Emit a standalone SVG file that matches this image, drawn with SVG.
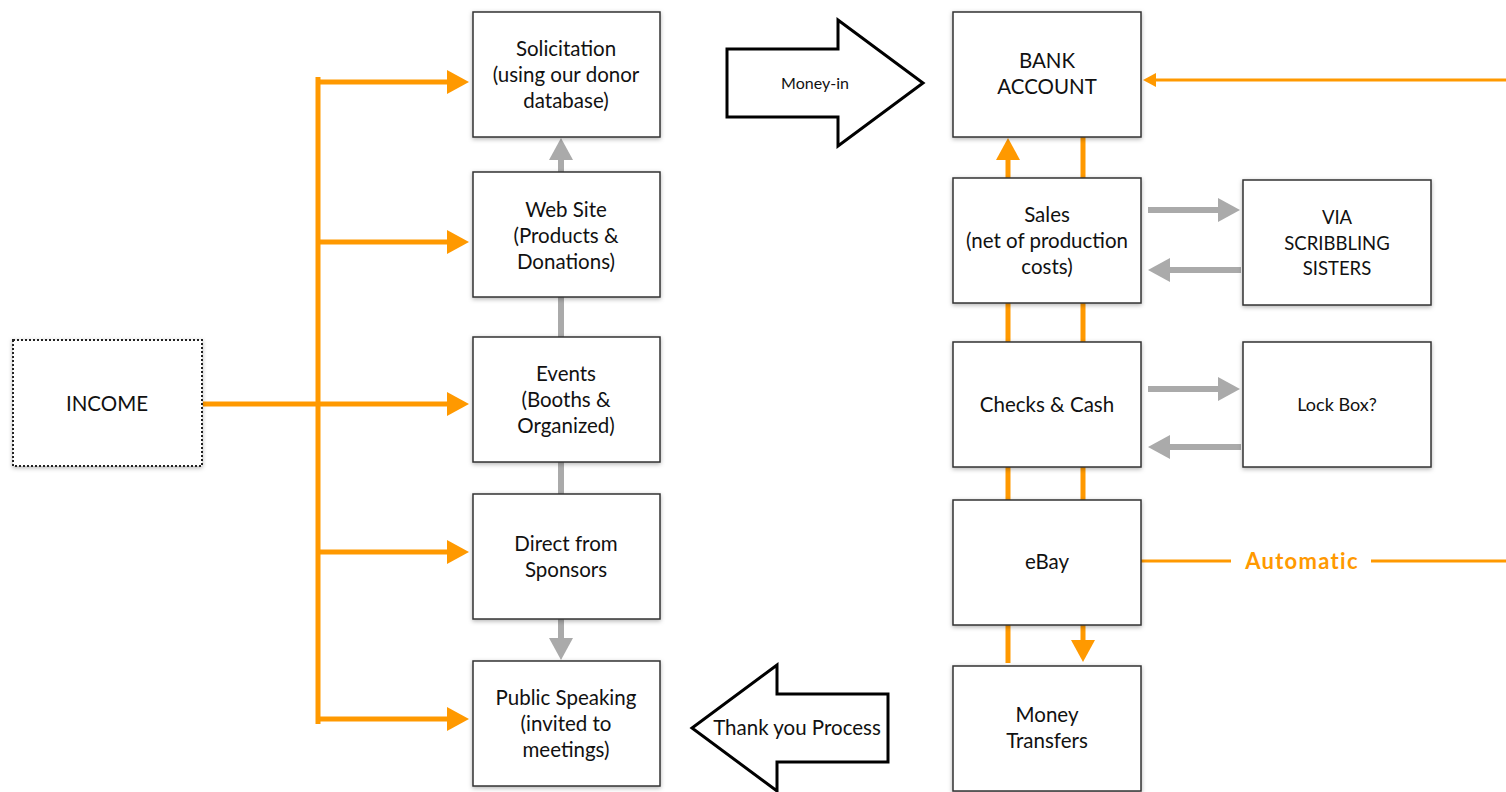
<svg xmlns="http://www.w3.org/2000/svg" width="1506" height="792" viewBox="0 0 1506 792">
<style>
.box{fill:#fff;stroke:#333;stroke-width:1.5;filter:url(#sh)}
.t{font-family:Lato,"Open Sans","Liberation Sans",sans-serif;font-size:20.5px;fill:#111;text-anchor:middle}
.o{stroke:#ff9900;stroke-width:5;fill:none}
.g{stroke:#aaaaaa;stroke-width:6;fill:none}
.big{fill:#fff;stroke:#000;stroke-width:3}
</style>
<defs>
<filter id="sh" x="-10%" y="-10%" width="120%" height="125%">
<feDropShadow dx="0" dy="1.5" stdDeviation="2" flood-color="#000" flood-opacity="0.3"/>
</filter>
<marker id="ao" markerUnits="userSpaceOnUse" markerWidth="24" markerHeight="26" refX="0" refY="12" orient="auto" viewBox="0 0 24 24">
<path d="M0,0 L22,12 L0,24 Z" fill="#ff9900"/>
</marker>
<marker id="ag" markerUnits="userSpaceOnUse" markerWidth="24" markerHeight="26" refX="0" refY="12" orient="auto" viewBox="0 0 24 24">
<path d="M0,0 L22,12 L0,24 Z" fill="#aaaaaa"/>
</marker>
<marker id="aos" markerUnits="userSpaceOnUse" markerWidth="14" markerHeight="14" refX="0" refY="7" orient="auto" viewBox="0 0 14 14">
<path d="M0,0 L13,7 L0,14 Z" fill="#ff9900"/>
</marker>
</defs>

<g id="connectors">
<line class="o" x1="203" y1="404" x2="447" y2="404" marker-end="url(#ao)"/>
<line class="o" x1="318" y1="77" x2="318" y2="724"/>
<line class="o" x1="316" y1="82" x2="447" y2="82" marker-end="url(#ao)"/>
<line class="o" x1="316" y1="242" x2="447" y2="242" marker-end="url(#ao)"/>
<line class="o" x1="316" y1="552" x2="447" y2="552" marker-end="url(#ao)"/>
<line class="o" x1="316" y1="719" x2="447" y2="719" marker-end="url(#ao)"/>
<line class="g" x1="561" y1="172" x2="561" y2="160" marker-end="url(#ag)"/>
<line class="g" x1="561" y1="297" x2="561" y2="337"/>
<line class="g" x1="561" y1="462" x2="561" y2="494"/>
<line class="g" x1="561" y1="619" x2="561" y2="638" marker-end="url(#ag)"/>
<line class="o" x1="1008" y1="178" x2="1008" y2="160" marker-end="url(#ao)"/>
<line class="o" x1="1083" y1="137" x2="1083" y2="178"/>
<line class="o" x1="1008" y1="303" x2="1008" y2="342"/>
<line class="o" x1="1083" y1="303" x2="1083" y2="342"/>
<line class="o" x1="1008" y1="467" x2="1008" y2="500"/>
<line class="o" x1="1083" y1="467" x2="1083" y2="500"/>
<line class="o" x1="1008" y1="625" x2="1008" y2="663"/>
<line class="o" x1="1083" y1="625" x2="1083" y2="640" marker-end="url(#ao)"/>
<line class="g" x1="1148" y1="210" x2="1218" y2="210" marker-end="url(#ag)"/>
<line class="g" x1="1241" y1="270" x2="1170" y2="270" marker-end="url(#ag)"/>
<line class="g" x1="1148" y1="389" x2="1218" y2="389" marker-end="url(#ag)"/>
<line class="g" x1="1241" y1="447" x2="1170" y2="447" marker-end="url(#ag)"/>
<line stroke="#ff9900" stroke-width="3" x1="1506" y1="80" x2="1156" y2="80" marker-end="url(#aos)"/>
<line stroke="#ff9900" stroke-width="3" x1="1141" y1="561" x2="1231" y2="561"/>
<line stroke="#ff9900" stroke-width="3" x1="1371" y1="561" x2="1506" y2="561"/>
<text x="1302" y="569" style="font-family:Lato,'Open Sans','Liberation Sans',sans-serif;font-size:22px;font-weight:bold;letter-spacing:1.3px;fill:#ff9900;text-anchor:middle">Automatic</text>
</g>

<g id="money-in">
<path class="big" d="M727,49 L838,49 L838,20 L923,83 L838,146 L838,117 L727,117 Z"/>
<text class="t" x="815" y="89" style="font-size:16px">Money-in</text>
</g>

<g id="thank-you">
<path class="big" d="M888,694 L777,694 L777,665 L692,728 L777,791 L777,762 L888,762 Z"/>
<text class="t" x="797" y="735">Thank you Process</text>
</g>

<g id="income">
<rect x="13" y="340" width="189" height="126" fill="#fff" stroke="#222" stroke-width="2" stroke-dasharray="2,2" filter="url(#sh)"/>
<text class="t" x="107" y="411">INCOME</text>
</g>

<g id="solicitation">
<rect class="box" x="473" y="12" width="187" height="125"/>
<text class="t" x="566" y="56">Solicitation</text>
<text class="t" x="566" y="82">(using our donor</text>
<text class="t" x="566" y="108">database)</text>
</g>

<g id="website">
<rect class="box" x="473" y="172" width="187" height="125"/>
<text class="t" x="566" y="217">Web Site</text>
<text class="t" x="566" y="243">(Products &amp;</text>
<text class="t" x="566" y="269">Donations)</text>
</g>

<g id="events">
<rect class="box" x="473" y="337" width="187" height="125"/>
<text class="t" x="566" y="381">Events</text>
<text class="t" x="566" y="407">(Booths &amp;</text>
<text class="t" x="566" y="433">Organized)</text>
</g>

<g id="direct">
<rect class="box" x="473" y="494" width="187" height="125"/>
<text class="t" x="566" y="551">Direct from</text>
<text class="t" x="566" y="577">Sponsors</text>
</g>

<g id="public">
<rect class="box" x="473" y="661" width="187" height="125"/>
<text class="t" x="566" y="705">Public Speaking</text>
<text class="t" x="566" y="731">(invited to</text>
<text class="t" x="566" y="757">meetings)</text>
</g>

<g id="bank">
<rect class="box" x="953" y="12" width="188" height="125"/>
<text class="t" x="1047" y="68">BANK</text>
<text class="t" x="1047" y="94">ACCOUNT</text>
</g>

<g id="sales">
<rect class="box" x="953" y="178" width="188" height="125"/>
<text class="t" x="1047" y="222">Sales</text>
<text class="t" x="1047" y="248">(net of production</text>
<text class="t" x="1047" y="274">costs)</text>
</g>

<g id="via">
<rect class="box" x="1243" y="180" width="188" height="125"/>
<text class="t" x="1337" y="224" style="font-size:18.5px">VIA</text>
<text class="t" x="1337" y="250" style="font-size:18.5px">SCRIBBLING</text>
<text class="t" x="1337" y="275" style="font-size:18.5px">SISTERS</text>
</g>

<g id="checks">
<rect class="box" x="953" y="342" width="188" height="125"/>
<text class="t" x="1047" y="412">Checks &amp; Cash</text>
</g>

<g id="lockbox">
<rect class="box" x="1243" y="342" width="188" height="125"/>
<text class="t" x="1337" y="411" style="font-size:18px">Lock Box?</text>
</g>

<g id="ebay">
<rect class="box" x="953" y="500" width="188" height="125"/>
<text class="t" x="1047" y="569">eBay</text>
</g>

<g id="transfers">
<rect class="box" x="953" y="666" width="188" height="125"/>
<text class="t" x="1047" y="722">Money</text>
<text class="t" x="1047" y="748">Transfers</text>
</g>
</svg>
